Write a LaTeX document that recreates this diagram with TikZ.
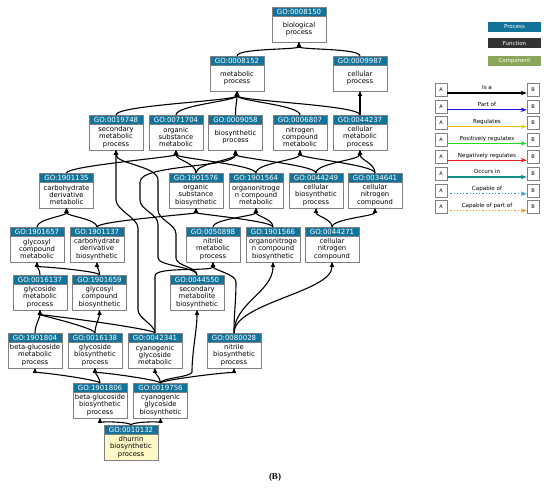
\documentclass[tikz,border=0pt]{standalone}
\usepackage{fontspec}
\setmainfont{DejaVu Sans}
\newfontfamily\capfont{Liberation Serif}
\usetikzlibrary{arrows.meta}

\definecolor{gohead}{HTML}{12739B}
\definecolor{goframe}{HTML}{7F7F7F}
\definecolor{gofunc}{HTML}{333333}
\definecolor{gocomp}{HTML}{8AA65A}
\definecolor{goleaf}{HTML}{FFF9C8}
\definecolor{relpart}{HTML}{1414E6}
\definecolor{relreg}{HTML}{F5C400}
\definecolor{relpos}{HTML}{1EDC1E}
\definecolor{relneg}{HTML}{E61E1E}
\definecolor{relocc}{HTML}{14918C}
\definecolor{relcap}{HTML}{2A96E6}
\definecolor{relcpo}{HTML}{F0961E}

\begin{document}
\begin{tikzpicture}[x=1pt, y=1pt,
    term/.style={rectangle, draw=goframe, line width=0.6pt, fill=white, minimum width=54pt, minimum height=26pt, inner sep=1pt, outer sep=0pt, align=center, font=\fontsize{6.8}{7.4}\selectfont},
    head/.style={rectangle, draw=goframe, line width=0.6pt, fill=gohead, text=white, minimum width=54pt, minimum height=9pt, inner sep=0pt, outer sep=0pt, font=\fontsize{7}{8}\selectfont},
    isa/.style={-{Triangle[length=5pt,width=4.2pt]}, line width=1.1pt},
    vbend/.style={to path={.. controls +(0,#1) and +(0,-#1) .. (\tikztotarget)}},
    vbend/.default=8,
    kind/.style={rectangle, minimum width=53pt, minimum height=10pt, inner sep=0pt, text=white, font=\fontsize{5.5}{6}\selectfont},
    relbox/.style={rectangle, draw=goframe, line width=0.5pt, fill=white, minimum width=12pt, minimum height=13pt, inner sep=0pt, font=\fontsize{5}{5}\selectfont},
    rel/.style={-{Stealth[length=6pt,width=4.5pt]}, line width=1.2pt},
    rellabel/.style={inner sep=0.5pt, text height=4pt, text depth=1pt, font=\fontsize{5.6}{6}\selectfont}]
    \useasboundingbox (0,0) rectangle (550,490);

    % Top levels
    \node[term, label={[head, name=hbio]above:{GO:0008150}}] (bio) at (299,461) {biological\\process};
    \node[term, label={[head, name=hmet]above:{GO:0008152}}] (met) at (237,412) {metabolic\\process};
    \node[term, label={[head, name=hcel]above:{GO:0009987}}] (cel) at (360,412) {cellular\\process};

    % Third row
    \node[term, label={[head, name=hsecmet]above:{GO:0019748}}] (secmet) at (116,353) {secondary\\metabolic\\process};
    \node[term, label={[head, name=horgmet]above:{GO:0071704}}] (orgmet) at (176,353) {organic\\substance\\metabolic};
    \node[term, label={[head, name=hbiosyn]above:{GO:0009058}}] (biosyn) at (235.5,353) {biosynthetic\\process};
    \node[term, label={[head, name=hnitmet]above:{GO:0006807}}] (nitmet) at (300,353) {nitrogen\\compound\\metabolic};
    \node[term, label={[head, name=hcelmet]above:{GO:0044237}}] (celmet) at (360,353) {cellular\\metabolic\\process};

    % Fourth row
    \node[term, label={[head, name=hcarbmet]above:{GO:1901135}}] (carbmet) at (66.5,295) {carbohydrate\\derivative\\metabolic};
    \node[term, label={[head, name=horgbio]above:{GO:1901576}}] (orgbio) at (196,295) {organic\\substance\\biosynthetic};
    \node[term, label={[head, name=honmet]above:{GO:1901564}}] (onmet) at (256,295) {organonitroge\\n compound\\metabolic};
    \node[term, label={[head, name=hcelbio]above:{GO:0044249}}] (celbio) at (316,295) {cellular\\biosynthetic\\process};
    \node[term, label={[head, name=hcnmet]above:{GO:0034641}}] (cnmet) at (375,295) {cellular\\nitrogen\\compound};

    % Fifth row
    \node[term, label={[head, name=hglymet]above:{GO:1901657}}] (glymet) at (37,241) {glycosyl\\compound\\metabolic};
    \node[term, label={[head, name=hcarbbio]above:{GO:1901137}}] (carbbio) at (97,241) {carbohydrate\\derivative\\biosynthetic};
    \node[term, label={[head, name=hnitrmet]above:{GO:0050898}}] (nitrmet) at (213,241) {nitrile\\metabolic\\process};
    \node[term, label={[head, name=honbio]above:{GO:1901566}}] (onbio) at (273,241) {organonitroge\\n compound\\biosynthetic};
    \node[term, label={[head, name=hcnbio]above:{GO:0044271}}] (cnbio) at (332,241) {cellular\\nitrogen\\compound};

    % Sixth row
    \node[term, label={[head, name=hgsdmet]above:{GO:0016137}}] (gsdmet) at (40,193) {glycoside\\metabolic\\process};
    \node[term, label={[head, name=hglybio]above:{GO:1901659}}] (glybio) at (99.5,193) {glycosyl\\compound\\biosynthetic};
    \node[term, label={[head, name=hsecbio]above:{GO:0044550}}] (secbio) at (197,193) {secondary\\metabolite\\biosynthetic};

    % Seventh row
    \node[term, label={[head, name=hbgmet]above:{GO:1901804}}] (bgmet) at (35,135) {beta-glucoside\\metabolic\\process};
    \node[term, label={[head, name=hgsdbio]above:{GO:0016138}}] (gsdbio) at (95,135) {glycoside\\biosynthetic\\process};
    \node[term, label={[head, name=hcyanmet]above:{GO:0042341}}] (cyanmet) at (155,135) {cyanogenic\\glycoside\\metabolic};
    \node[term, label={[head, name=hnitrbio]above:{GO:0080028}}] (nitrbio) at (234,135) {nitrile\\biosynthetic\\process};

    % Bottom rows
    \node[term, label={[head, name=hbgbio]above:{GO:1901806}}] (bgbio) at (100,85) {beta-glucoside\\biosynthetic\\process};
    \node[term, label={[head, name=hcyanbio]above:{GO:0019756}}] (cyanbio) at (160.5,85) {cyanogenic\\glycoside\\biosynthetic};
    \node[term, fill=goleaf, label={[head, name=hdhurrin]above:{GO:0010132}}] (dhurrin) at (131,43) {dhurrin\\biosynthetic\\process};

    % Is-a edges, upper part
    \draw[isa] (hmet.north) to[vbend=8] (bio.south);
    \draw[isa] (hcel.north) to[vbend=8] (bio.south);
    \draw[isa] (hsecmet.north) to[vbend=10] (met.south);
    \draw[isa] (horgmet.north) to[vbend=10] (met.south);
    \draw[isa] (hbiosyn.north) to[vbend=10] (met.south);
    \draw[isa] (hnitmet.north) to[vbend=10] (met.south);
    \draw[isa] (hcelmet.north) to[vbend=10] (met.south);
    \draw[isa] (hcelmet.north) -- (cel.south);
    \draw[isa] (hcarbmet.north) to[vbend=7] (orgmet.south);
    \draw[isa] (horgbio.north) to[vbend=10] (orgmet.south);
    \draw[isa] (horgbio.north) to[vbend=10] (biosyn.south);
    \draw[isa] (honmet.north) to[vbend=8] (orgmet.south);
    \draw[isa] (honmet.north) to[vbend=10] (nitmet.south);
    \draw[isa] (hcelbio.north) to[vbend=8] (biosyn.south);
    \draw[isa] (hcelbio.north) to[vbend=10] (celmet.south);
    \draw[isa] (hcnmet.north) to[vbend=8] (nitmet.south);
    \draw[isa] (hcnmet.north) to[vbend=10] (celmet.south);

    % Is-a edges, middle part
    \draw[isa] (hglymet.north) to[vbend=8] (carbmet.south);
    \draw[isa] (hcarbbio.north) to[vbend=8] (carbmet.south);
    \draw[isa] (hcarbbio.north) to[vbend=6] (orgbio.south);
    \draw[isa] (hnitrmet.north) to[vbend=8] (onmet.south);
    \draw[isa] (honbio.north) to[vbend=8] (onmet.south);
    \draw[isa] (honbio.north) to[vbend=6] (orgbio.south);
    \draw[isa] (hcnbio.north) to[vbend=8] (celbio.south);
    \draw[isa] (hcnbio.north) to[vbend=8] (cnmet.south);
    \draw[isa] (hgsdmet.north) to[vbend=6] (glymet.south);
    \draw[isa] (hglybio.north) to[vbend=4] (glymet.south);
    \draw[isa] (hglybio.north) to[vbend=6] (carbbio.south);

    % Long edges
    \draw[isa] (hsecbio.north) to[vbend=8] (158,232) -- (158,266) to[vbend=10] (140,290) -- (140,308) to[vbend=18] (biosyn.south);
    \draw[isa] (hsecbio.north) to[vbend=8] (176,232) -- (176,256) to[vbend=10] (158,280) -- (158,310) to[vbend=14] (secmet.south);
    \draw[isa] (hcyanmet.north) to[vbend=8] (138,180) -- (138,262) to[vbend=10] (116,290) -- (secmet.south);
    \draw[isa] (hcyanmet.north) -- (155,214) to[vbend=10] (nitrmet.south);
    \draw[isa] (hcyanmet.north) to[vbend=4] (gsdmet.south);
    \draw[isa] (hnitrbio.north) to[vbend=20] (236,208) to[vbend=8] (nitrmet.south);
    \draw[isa] (hnitrbio.north) to[vbend=30] (onbio.south);
    \draw[isa] (hnitrbio.north) to[vbend=30] (cnbio.south);

    % Is-a edges, lower part
    \draw[isa] (hbgmet.north) to[vbend=8] (gsdmet.south);
    \draw[isa] (hgsdbio.north) to[vbend=5] (gsdmet.south);
    \draw[isa] (hgsdbio.north) to[vbend=8] (glybio.south);
    \draw[isa] (hbgbio.north) to[vbend=3] (bgmet.south);
    \draw[isa] (hbgbio.north) to[vbend=4] (gsdbio.south);
    \draw[isa] (hcyanbio.north) to[vbend=3] (gsdbio.south);
    \draw[isa] (hcyanbio.north) to[vbend=5] (cyanmet.south);
    \draw[isa] (hcyanbio.north) to[vbend=5] (192,118) to[vbend=20] (secbio.south);
    \draw[isa] (hcyanbio.north) to[vbend=3] (nitrbio.south);
    \draw[isa] (hdhurrin.north) to[vbend=3] (bgbio.south);
    \draw[isa] (hdhurrin.north) to[vbend=3] (cyanbio.south);

    % Legend: term kinds
    \node[kind, fill=gohead] (lproc) at (514.5,463) {Process};
    \node[kind, fill=gofunc] (lfunc) at (514.5,446.5) {Function};
    \node[kind, fill=gocomp] (lcomp) at (514.5,428.5) {Component};

    % Legend: relations
    \node[relbox] (a1) at (441,400.5) {A};
    \node[relbox] (b1) at (533,400.5) {B};
    \draw[rel] ([yshift=-3.5pt]a1.east) -- ([yshift=-3.5pt]b1.west) node[midway, above=1pt, rellabel] {Is a};
    \node[relbox] (a2) at (441,383.7) {A};
    \node[relbox] (b2) at (533,383.7) {B};
    \draw[rel, relpart] ([yshift=-3.5pt]a2.east) -- ([yshift=-3.5pt]b2.west) node[midway, above=1pt, rellabel, black] {Part of};
    \node[relbox] (a3) at (441,366.9) {A};
    \node[relbox] (b3) at (533,366.9) {B};
    \draw[rel, relreg] ([yshift=-3.5pt]a3.east) -- ([yshift=-3.5pt]b3.west) node[midway, above=1pt, rellabel, black] {Regulates};
    \node[relbox] (a4) at (441,350.1) {A};
    \node[relbox] (b4) at (533,350.1) {B};
    \draw[rel, relpos] ([yshift=-3.5pt]a4.east) -- ([yshift=-3.5pt]b4.west) node[midway, above=1pt, rellabel, black] {Positively regulates};
    \node[relbox] (a5) at (441,333.3) {A};
    \node[relbox] (b5) at (533,333.3) {B};
    \draw[rel, relneg] ([yshift=-3.5pt]a5.east) -- ([yshift=-3.5pt]b5.west) node[midway, above=1pt, rellabel, black] {Negatively regulates};
    \node[relbox] (a6) at (441,316.5) {A};
    \node[relbox] (b6) at (533,316.5) {B};
    \draw[rel, relocc] ([yshift=-3.5pt]a6.east) -- ([yshift=-3.5pt]b6.west) node[midway, above=1pt, rellabel, black] {Occurs in};
    \node[relbox] (a7) at (441,299.7) {A};
    \node[relbox] (b7) at (533,299.7) {B};
    \draw[rel, relcap, dotted] ([yshift=-3.5pt]a7.east) -- ([yshift=-3.5pt]b7.west) node[midway, above=1pt, rellabel, black] {Capable of};
    \node[relbox] (a8) at (441,282.9) {A};
    \node[relbox] (b8) at (533,282.9) {B};
    \draw[rel, relcpo, dotted] ([yshift=-3.5pt]a8.east) -- ([yshift=-3.5pt]b8.west) node[midway, above=1pt, rellabel, black] {Capable of part of};

    % Panel label
    \node[font=\capfont\bfseries\fontsize{9}{10}\selectfont] (panel) at (275,13) {(B)};
\end{tikzpicture}
\end{document}
